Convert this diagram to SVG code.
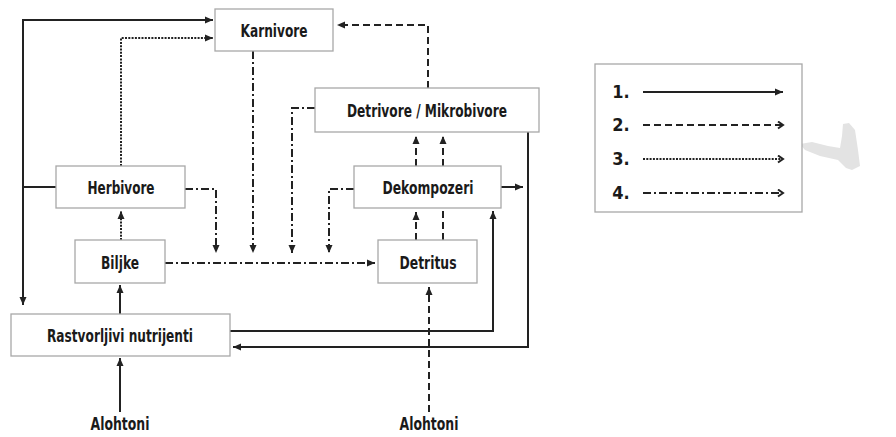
<svg xmlns="http://www.w3.org/2000/svg" width="896" height="437" viewBox="0 0 896 437">
<style>
.box{fill:#fff;stroke:#a8a8a8;stroke-width:1.3}
.t{font-family:"DejaVu Sans Condensed","Liberation Sans",sans-serif;font-weight:bold;font-size:18px;fill:#1a1a1a;text-anchor:middle}
.c{fill:none;stroke:#222;stroke-width:2}
.s{}
.d{stroke-dasharray:7 4}
.o{stroke-dasharray:2 1.3}
.dd{stroke-dasharray:8 3 2 3}
.a{marker-end:url(#ah)}
.v{marker-end:url(#ch)}
</style>
<defs>
<marker id="ah" markerUnits="userSpaceOnUse" markerWidth="9" markerHeight="8" refX="8" refY="4" orient="auto">
<path d="M0,0.5 L8,4 L0,7.5 Z" fill="#222"/>
</marker>
<marker id="ch" markerUnits="userSpaceOnUse" markerWidth="9" markerHeight="9" refX="7" refY="4.5" orient="auto">
<path d="M2,1 L7,4.5 L2,8" fill="none" stroke="#222" stroke-width="2"/>
</marker>
</defs>
<rect width="896" height="437" fill="#fff"/>
<polygon points="843,124 849,123 855,130 858,150 860,166 852,170 846,168 838,160 820,156 805,150 800,144 812,142 828,146 840,148 842,136" fill="#e3e3e3"/>
<g id="connectors">
<path class="c s a" d="M56,187 H23 V20 H213"/>
<path class="c s a" d="M23,187 V305"/>
<path class="c s a" d="M120,314 V285"/>
<path class="c s a" d="M120,412 V358"/>
<path class="c s a" d="M230,331 H493 V211"/>
<path class="c s a" d="M528,132 V347 H233"/>
<path class="c s a" d="M501,187 H523"/>
<path class="c o a" d="M121,166 V38 H213"/>
<path class="c o a" d="M121,240 V211"/>
<path class="c d a" d="M428,88 V25 H337"/>
<path class="c d a" d="M416,166 V136"/>
<path class="c d a" d="M443,166 V136"/>
<path class="c d a" d="M416,240 V212"/>
<path class="c d" d="M443,240 V208"/>
<path class="c d a" d="M429,412 V287"/>
<path class="c dd a" d="M253,51 V253"/>
<path class="c dd a" d="M315,108 H292 V253"/>
<path class="c dd a" d="M185,189 H216 V253"/>
<path class="c dd a" d="M354,189 H329 V253"/>
<path class="c dd a" d="M165,263 H375"/>
</g>
<g id="karnivore"><rect class="box" x="215" y="9" width="118" height="42"/><text class="t" x="274" y="37" textLength="67" lengthAdjust="spacingAndGlyphs">Karnivore</text></g>
<g id="detrivore"><rect class="box" x="315" y="88" width="224" height="44"/><text class="t" x="427" y="117" textLength="160" lengthAdjust="spacingAndGlyphs">Detrivore / Mikrobivore</text></g>
<g id="herbivore"><rect class="box" x="56" y="166" width="129" height="42"/><text class="t" x="121" y="194" textLength="67" lengthAdjust="spacingAndGlyphs">Herbivore</text></g>
<g id="dekompozeri"><rect class="box" x="354" y="166" width="147" height="42"/><text class="t" x="428" y="194" textLength="91" lengthAdjust="spacingAndGlyphs">Dekompozeri</text></g>
<g id="biljke"><rect class="box" x="75" y="240" width="90" height="43"/><text class="t" x="120" y="269" textLength="38" lengthAdjust="spacingAndGlyphs">Biljke</text></g>
<g id="detritus"><rect class="box" x="378" y="240" width="99" height="43"/><text class="t" x="428" y="269" textLength="57" lengthAdjust="spacingAndGlyphs">Detritus</text></g>
<g id="rastvorljivi"><rect class="box" x="11" y="314" width="219" height="42"/><text class="t" x="120" y="342" textLength="146" lengthAdjust="spacingAndGlyphs">Rastvorljivi nutrijenti</text></g>
<g id="alohtoni1"><text class="t" x="120" y="430" textLength="59" lengthAdjust="spacingAndGlyphs">Alohtoni</text></g>
<g id="alohtoni2"><text class="t" x="429" y="430" textLength="59" lengthAdjust="spacingAndGlyphs">Alohtoni</text></g>
<g id="legend">
<rect class="box" x="595" y="64" width="207" height="148"/>
<text class="t" x="621" y="98">1.</text>
<text class="t" x="621" y="131">2.</text>
<text class="t" x="621" y="165">3.</text>
<text class="t" x="621" y="199">4.</text>
<path class="c s a" d="M643,92 H783"/>
<path class="c d v" d="M643,125 H783"/>
<path class="c o v" d="M643,159 H783"/>
<path class="c dd v" d="M643,193 H783"/>
</g>
</svg>
